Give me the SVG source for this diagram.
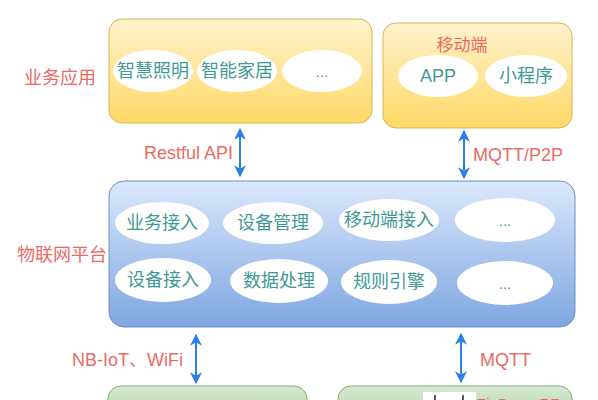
<svg xmlns="http://www.w3.org/2000/svg" width="598" height="400" viewBox="0 0 598 400">
<defs>
<linearGradient id="gy" x1="0" y1="0" x2="0" y2="1"><stop offset="0" stop-color="#fff2cc"/><stop offset="1" stop-color="#ffd966"/></linearGradient>
<linearGradient id="gb" x1="0" y1="0" x2="0" y2="1"><stop offset="0" stop-color="#dae8fc"/><stop offset="1" stop-color="#7ea6e0"/></linearGradient>
<linearGradient id="gg" x1="0" y1="0" x2="0" y2="1"><stop offset="0" stop-color="#d5e8d4"/><stop offset="1" stop-color="#97d077"/></linearGradient>
<marker id="ah" viewBox="0 0 10 10" refX="9" refY="5" markerWidth="6" markerHeight="6" orient="auto-start-reverse" markerUnits="strokeWidth"><path d="M0,0 L10,5 L0,10 L3,5 Z" fill="#2a7fe8"/></marker>
<style>
.ye{fill:url(#gy);stroke:#d6b656;stroke-width:1}
.bl{fill:url(#gb);stroke:#6c8ebf;stroke-width:1}
.gr{fill:url(#gg);stroke:#82b366;stroke-width:1}
.el{fill:#ffffff;stroke:none}
.t{font-family:"Liberation Sans","Noto Sans CJK SC",sans-serif;font-size:18px;fill:#3f9a97;text-anchor:middle;dominant-baseline:central}
.d{font-family:"Liberation Sans",sans-serif;font-size:15px;fill:#3f9a97;text-anchor:middle;dominant-baseline:central}
.r{font-family:"Liberation Sans","Noto Sans CJK SC",sans-serif;font-size:18px;fill:#ea6b66;dominant-baseline:central}
.ar{stroke:#2a7fe8;stroke-width:2;fill:none;marker-start:url(#ah);marker-end:url(#ah)}
</style>
</defs>
<rect width="598" height="400" fill="#ffffff"/>
<g id="label-app"><text class="r" x="24" y="78">业务应用</text></g>
<g id="label-iot"><text class="r" x="17" y="255">物联网平台</text></g>
<g id="app-box">
<rect class="ye" x="109" y="19" width="263" height="104" rx="13"/>
<ellipse class="el" cx="153" cy="71" rx="40" ry="21"/><text class="t" x="153" y="71">智慧照明</text>
<ellipse class="el" cx="237" cy="71" rx="40" ry="21"/><text class="t" x="237" y="71">智能家居</text>
<ellipse class="el" cx="322" cy="71" rx="40" ry="21"/><text class="d" x="322" y="71">...</text>
</g>
<g id="mobile-box">
<rect class="ye" x="383" y="23" width="189" height="105" rx="13"/>
<text class="r" x="462" y="45" text-anchor="middle" style="font-size:17px">移动端</text>
<ellipse class="el" cx="438" cy="76" rx="40" ry="21"/><text class="t" x="438" y="76">APP</text>
<ellipse class="el" cx="526" cy="76" rx="41" ry="21"/><text class="t" x="526" y="76">小程序</text>
</g>
<g id="iot-box">
<rect class="bl" x="109" y="181" width="466" height="146" rx="15"/>
<ellipse class="el" cx="162" cy="223" rx="47" ry="21"/><text class="t" x="162" y="223">业务接入</text>
<ellipse class="el" cx="273" cy="223" rx="50" ry="21"/><text class="t" x="273" y="223">设备管理</text>
<ellipse class="el" cx="389" cy="220" rx="50" ry="21"/><text class="t" x="389" y="220">移动端接入</text>
<ellipse class="el" cx="505" cy="220" rx="50" ry="22"/><text class="d" x="505" y="220">...</text>
<ellipse class="el" cx="163" cy="280" rx="48" ry="22"/><text class="t" x="163" y="280">设备接入</text>
<ellipse class="el" cx="279" cy="281" rx="49" ry="22"/><text class="t" x="279" y="281">数据处理</text>
<ellipse class="el" cx="389" cy="282" rx="48" ry="22"/><text class="t" x="389" y="282">规则引擎</text>
<ellipse class="el" cx="505" cy="283" rx="48" ry="22"/><text class="d" x="505" y="283">...</text>
</g>
<g id="bottom-left"><rect class="gr" x="108" y="386" width="199" height="60" rx="13"/></g>
<g id="bottom-right">
<rect class="gr" x="338" y="386" width="234" height="60" rx="13"/>
<rect x="423" y="392" width="53" height="20" fill="#ffffff"/>
<line x1="435" y1="395" x2="435" y2="400" stroke="#222" stroke-width="1.5"/>
<line x1="463" y1="395" x2="463" y2="400" stroke="#222" stroke-width="1.5"/>
<text class="r" x="477" y="403" style="font-size:15px">ZigBee、RF</text>
</g>
<g id="connectors">
<line class="ar" x1="240" y1="129" x2="240" y2="176"/>
<line class="ar" x1="464" y1="131" x2="464" y2="178"/>
<line class="ar" x1="196" y1="335" x2="196" y2="383"/>
<line class="ar" x1="461" y1="334" x2="461" y2="382"/>
<text class="r" x="233" y="153" text-anchor="end">Restful API</text>
<text class="r" x="473" y="155">MQTT/P2P</text>
<text class="r" x="183" y="360" text-anchor="end">NB-IoT、WiFi</text>
<text class="r" x="480" y="360">MQTT</text>
</g>
</svg>
